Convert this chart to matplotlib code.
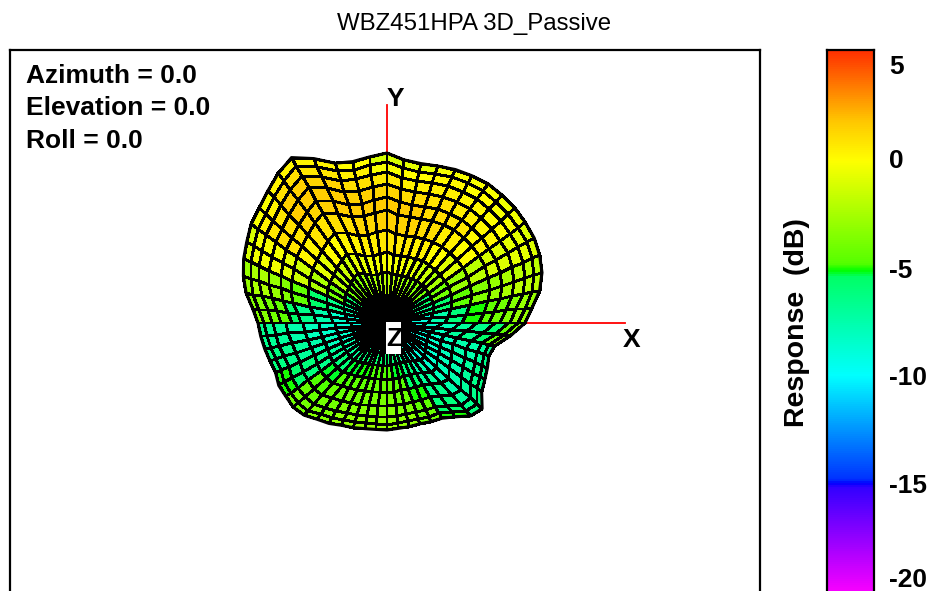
"""
WBZ451HPA 3D passive response, front view (mesh plus colour bar).
"""
import numpy as np
import matplotlib
matplotlib.use("Agg")
import matplotlib.pyplot as plt
from matplotlib.colors import LinearSegmentedColormap, Normalize
from matplotlib.patches import Rectangle

plt.rcParams["font.family"] = ["Liberation Sans", "DejaVu Sans"]

W, H = 944, 591

# outer radius of the pattern every 6 deg, counter clockwise from +X (pixels)
OUTLINE = [138, 146, 156, 163, 167, 170, 171, 172, 172, 172,
           170, 168, 165, 163, 164, 170, 167, 165, 168, 180,
           191, 185, 178, 172, 168, 162, 157, 151, 144, 135,
           129, 127, 125, 123, 122, 125, 125, 126, 124, 119,
           116, 112, 110, 108, 107, 107, 106, 106, 106, 108,
           110, 116, 125, 128, 117, 113, 110, 107, 110, 124]

# ring positions as a share of the outer radius, upper and lower half
RINGS_UPPER = [0.0, 0.165, 0.30, 0.418, 0.547, 0.665, 0.74, 0.82, 0.89, 0.95, 1.0]
RINGS_LOWER = [0.0, 0.12, 0.19, 0.28, 0.40, 0.53, 0.65, 0.78, 0.88, 0.95, 1.0]

# response in dB, one row per 12 deg sector, inner band to outer band
DB = [
    [-10, -9, -7.5, -6, -5, -4.5, -4, -3.5, -3, -3],
    [-8.5, -6.5, -5.5, -4.5, -3.5, -3, -2.5, -2, -2, -2],
    [-7.5, -5.5, -4, -3, -2, -1.2, -1, -0.8, -0.8, -1],
    [-6, -4, -2.5, -1, 0, 0.2, 0.2, 0, -0.3, -0.5],
    [-5.5, -3.5, -1.5, 0, 0.5, 0.8, 0.5, 0.2, 0, -0.3],
    [-5, -3, -0.8, 0.4, 1.1, 1.1, 0.9, 0.5, 0.2, -0.3],
    [-5, -2.3, -0.4, 0.7, 1.4, 1.6, 1.1, 0.5, 0, -0.8],
    [-5, -2, -0.3, 0.8, 1.5, 1.7, 1.3, 0.7, -0.3, -1.2],
    [-5, -2.5, -0.5, 0.5, 1.3, 1.6, 1.5, 1, 0.5, 0],
    [-5.5, -3, -0.8, 0.3, 1, 1.5, 1.6, 1.4, 0.8, 0.3],
    [-6, -3.5, -1.5, 0, 0.8, 1.3, 1.6, 1.5, 1, 0.3],
    [-6.5, -4, -2, -0.8, 0.3, 0.8, 1, 0.8, 0.4, -0.2],
    [-7.5, -5.5, -4, -2.5, -1.5, -0.8, -0.4, -0.3, -0.5, -1.2],
    [-9, -7.5, -6.5, -5.5, -4.5, -3.5, -3, -2.5, -2.5, -3],
    [-10, -9, -8.5, -7.5, -6.5, -5.5, -4.5, -4, -3.5, -3.5],
    [-10, -9.5, -9.2, -8.8, -8.4, -8, -7.5, -7, -6.8, -6.5],
    [-10, -9.5, -9, -8.5, -8, -7.5, -7, -6.5, -6.2, -6],
    [-10, -9.5, -8.5, -7.5, -7, -6.5, -6, -5.5, -5, -5],
    [-10, -9, -8, -7, -6, -5.2, -4.8, -4.3, -4, -4],
    [-10, -8.5, -7, -6, -5.2, -4.8, -4.3, -4, -3.7, -3.5],
    [-9.5, -8, -6.5, -5.5, -5, -4.5, -4, -3.6, -3.3, -3.2],
    [-9.5, -8, -6.5, -5.5, -4.8, -4.3, -3.8, -3.4, -3.1, -3],
    [-9.5, -8, -6.5, -5.5, -4.8, -4.3, -3.8, -3.4, -3.1, -3],
    [-9.5, -8.5, -7, -6, -5.2, -4.7, -4.2, -3.7, -3.3, -3.2],
    [-10, -9.3, -8, -7, -6, -5.5, -5, -4.5, -4.2, -4],
    [-10, -10, -9, -8.5, -7.5, -7, -6.5, -6, -5.5, -5],
    [-10.5, -10, -9.5, -9, -8.5, -8, -7.5, -7, -6.5, -6],
    [-10.5, -10, -9.5, -9, -8.5, -8, -7.5, -7, -6.5, -6.3],
    [-10.5, -10, -9.5, -9, -8.5, -8, -7.5, -7.5, -7, -6.5],
    [-10, -9.5, -9, -8.5, -8, -7, -6.5, -5.5, -4.5, -3.5],
]

CB_LABELS = ["5", "0", "-5", "-10", "-15", "-20"]
CB_LABEL_PX = [67, 161, 271, 378, 486, 580]
INFO_LINES = ["Azimuth = 0.0", "Elevation = 0.0", "Roll = 0.0"]
INFO_PX = [76, 108, 141]

VMIN, VMAX = -20.2, 5.1
CMAP_STOPS = [(-20.2, "#ff00ff"), (-15.2, "#3300ff"), (-15.0, "#0000ff"),
              (-14.8, "#0033ff"), (-10.0, "#00ffff"), (-5.4, "#00ff66"),
              (-5.1, "#00ff00"), (-4.8, "#55ff00"), (0.0, "#ffff00"),
              (1.8, "#ffc800"), (5.1, "#ff3000")]

CENTER_PX = (387, 323)


def axes_px(fig, left, top, right, bottom):
    """Add axes from pixel edges, y measured from the top of the image."""
    return fig.add_axes([left / W, 1 - bottom / H, (right - left) / W, (bottom - top) / H])


def main():
    fig = plt.figure(figsize=(W / 100, H / 100), dpi=100)
    cmap = LinearSegmentedColormap.from_list(
        "response", [((v - VMIN) / (VMAX - VMIN), c) for v, c in CMAP_STOPS])
    norm = Normalize(VMIN, VMAX)

    # main box runs past the bottom of the image, as in the original
    left, top, right, bottom = 10, 50, 760, 620
    ax = axes_px(fig, left, top, right, bottom)
    ax.set_xlim(left - CENTER_PX[0], right - CENTER_PX[0])
    ax.set_ylim(CENTER_PX[1] - bottom, CENTER_PX[1] - top)
    ax.set_xticks([])
    ax.set_yticks([])
    for s in ax.spines.values():
        s.set_linewidth(1.6)

    n_spokes = len(OUTLINE)
    phi = 2 * np.pi * np.arange(n_spokes + 1) / n_spokes
    outer = np.array(OUTLINE + OUTLINE[:1], dtype=float)
    cc = np.repeat(np.array(DB, dtype=float), 2, axis=0)
    half = n_spokes // 2

    # red axes first, the mesh hides their inner part
    ax.plot([0, 238], [0, 0], color="red", lw=1.3, zorder=1)
    ax.plot([0, 0], [0, 218], color="red", lw=1.3, zorder=1)

    # the two halves meet in a seam along the X axis, rings do not line up there
    for idx, rings in ((np.arange(0, half + 1), RINGS_UPPER),
                       (np.arange(half, n_spokes + 1), RINGS_LOWER)):
        rr = np.outer(outer[idx], np.array(rings))
        xx = rr * np.cos(phi[idx])[:, None]
        yy = rr * np.sin(phi[idx])[:, None]
        ax.pcolormesh(xx, yy, cc[idx[:-1]], cmap=cmap, norm=norm, shading="flat",
                      edgecolors="black", linewidth=1.35, zorder=2)
    ax.plot(outer * np.cos(phi), outer * np.sin(phi), color="black", lw=2.2, zorder=3)

    ax.add_patch(Rectangle((-1, -31), 15, 32, facecolor="white", edgecolor="none", zorder=4))
    ax.text(7, -15.5, "Z", fontsize=19, fontweight="bold", ha="center", va="center", zorder=5)
    ax.text(8, 224.5, "Y", fontsize=19, fontweight="bold", ha="center", va="center", zorder=5)
    ax.text(245, -17, "X", fontsize=19, fontweight="bold", ha="center", va="center", zorder=5)

    for line, y in zip(INFO_LINES, INFO_PX):
        fig.text(26 / W, 1 - y / H, line, fontsize=19, fontweight="bold", va="center")

    fig.text(474 / W, 1 - 24 / H, "WBZ451HPA 3D_Passive", fontsize=17.3, ha="center", va="center")

    # colour bar, also cut off by the bottom of the image
    cax = axes_px(fig, 827, 50, 874, 596)
    grad = np.linspace(VMAX, VMIN, 512)[:, None]
    cax.imshow(grad, aspect="auto", cmap=cmap, norm=norm, extent=(0, 1, VMIN, VMAX))
    cax.set_xticks([])
    cax.set_yticks([])
    for s in cax.spines.values():
        s.set_linewidth(1.6)

    for lab, y in zip(CB_LABELS, CB_LABEL_PX):
        fig.text(889 / W, 1 - y / H, lab, fontsize=19, fontweight="bold", va="center")
    fig.text(797 / W, 1 - 323 / H, "Response  (dB)", fontsize=20.5, fontweight="bold",
             rotation=90, ha="center", va="center")

    fig.savefig("out.png", dpi=100)
    plt.close(fig)


if __name__ == "__main__":
    main()
